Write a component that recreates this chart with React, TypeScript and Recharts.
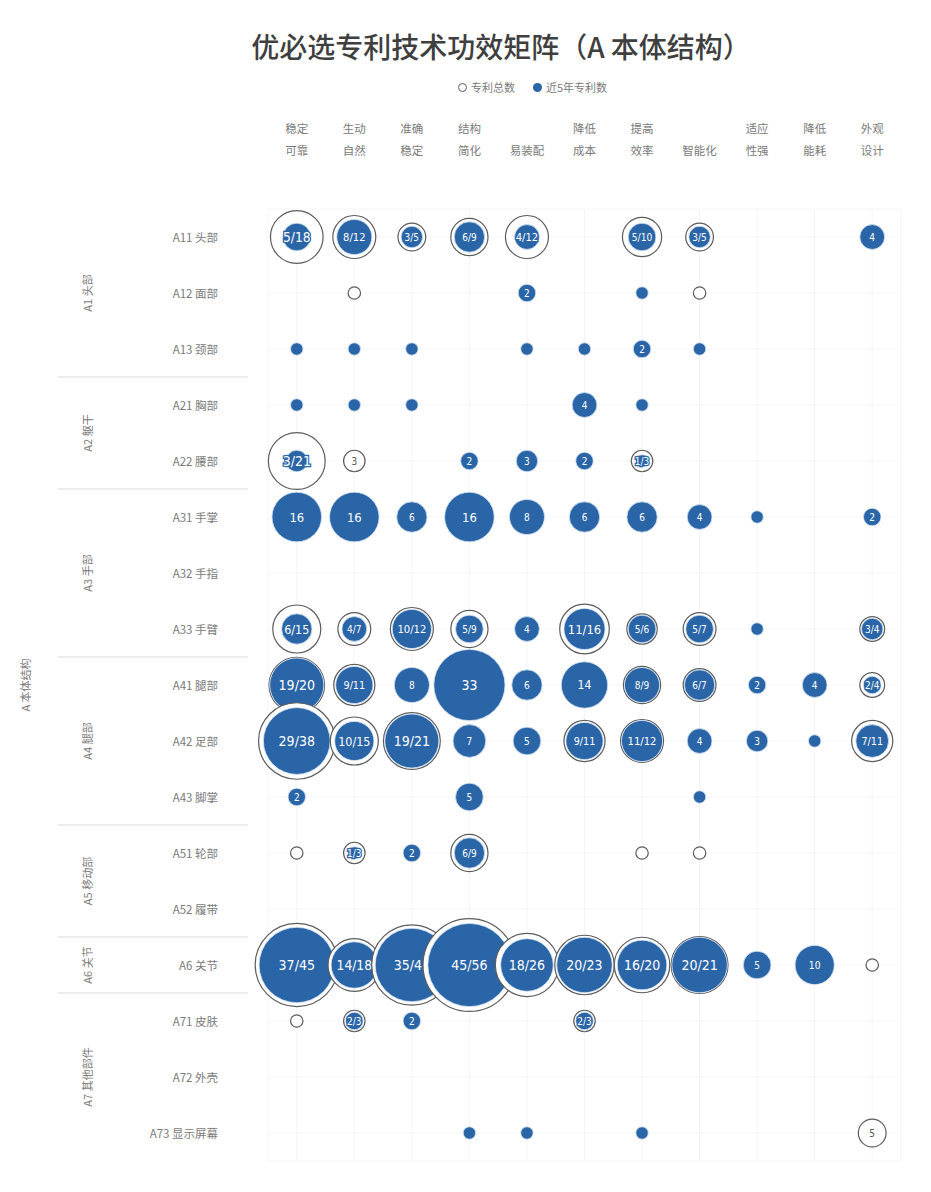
import {
  CartesianGrid,
  ReferenceDot,
  ReferenceLine,
  Scatter,
  ScatterChart,
  XAxis,
  YAxis,
  ZAxis,
} from "recharts";

// 功效 columns (two-line headers)
const columns: string[][] = [
  ["稳定", "可靠"],
  ["生动", "自然"],
  ["准确", "稳定"],
  ["结构", "简化"],
  ["", "易装配"],
  ["降低", "成本"],
  ["提高", "效率"],
  ["", "智能化"],
  ["适应", "性强"],
  ["降低", "能耗"],
  ["外观", "设计"],
];

const rows = [
  "A11 头部",
  "A12 面部",
  "A13 颈部",
  "A21 胸部",
  "A22 腰部",
  "A31 手掌",
  "A32 手指",
  "A33 手臂",
  "A41 腿部",
  "A42 足部",
  "A43 脚掌",
  "A51 轮部",
  "A52 履带",
  "A6 关节",
  "A71 皮肤",
  "A72 外壳",
  "A73 显示屏幕",
];

const groups = [
  { name: "A1 头部", from: 0, to: 2 },
  { name: "A2 躯干", from: 3, to: 4 },
  { name: "A3 手部", from: 5, to: 7 },
  { name: "A4 腿部", from: 8, to: 10 },
  { name: "A5 移动部", from: 11, to: 12 },
  { name: "A6 关节", from: 13, to: 13 },
  { name: "A7 其他部件", from: 14, to: 16 },
];

// 专利总数
const total: number[][] = [
  [18, 12, 5, 9, 12, 0, 10, 5, 0, 0, 4],
  [0, 1, 0, 0, 2, 0, 1, 1, 0, 0, 0],
  [1, 1, 1, 0, 1, 1, 2, 1, 0, 0, 0],
  [1, 1, 1, 0, 0, 4, 1, 0, 0, 0, 0],
  [21, 3, 0, 2, 3, 2, 3, 0, 0, 0, 0],
  [16, 16, 6, 16, 8, 6, 6, 4, 1, 0, 2],
  [0, 0, 0, 0, 0, 0, 0, 0, 0, 0, 0],
  [15, 7, 12, 9, 4, 16, 6, 7, 1, 0, 4],
  [20, 11, 8, 33, 6, 14, 9, 7, 2, 4, 4],
  [38, 15, 21, 7, 5, 11, 12, 4, 3, 1, 11],
  [2, 0, 0, 5, 0, 0, 0, 1, 0, 0, 0],
  [1, 3, 2, 9, 0, 0, 1, 1, 0, 0, 0],
  [0, 0, 0, 0, 0, 0, 0, 0, 0, 0, 0],
  [45, 18, 42, 56, 26, 23, 20, 21, 5, 10, 1],
  [1, 3, 2, 0, 0, 3, 0, 0, 0, 0, 0],
  [0, 0, 0, 0, 0, 0, 0, 0, 0, 0, 0],
  [0, 0, 0, 1, 1, 0, 1, 0, 0, 0, 5],
];

// 近5年专利数
const recent: number[][] = [
  [5, 8, 3, 6, 4, 0, 5, 3, 0, 0, 4],
  [0, 0, 0, 0, 2, 0, 1, 0, 0, 0, 0],
  [1, 1, 1, 0, 1, 1, 2, 1, 0, 0, 0],
  [1, 1, 1, 0, 0, 4, 1, 0, 0, 0, 0],
  [3, 0, 0, 2, 3, 2, 1, 0, 0, 0, 0],
  [16, 16, 6, 16, 8, 6, 6, 4, 1, 0, 2],
  [0, 0, 0, 0, 0, 0, 0, 0, 0, 0, 0],
  [6, 4, 10, 5, 4, 11, 5, 5, 1, 0, 3],
  [19, 9, 8, 33, 6, 14, 8, 6, 2, 4, 2],
  [29, 10, 19, 7, 5, 9, 11, 4, 3, 1, 7],
  [2, 0, 0, 5, 0, 0, 0, 1, 0, 0, 0],
  [0, 1, 2, 6, 0, 0, 0, 0, 0, 0, 0],
  [0, 0, 0, 0, 0, 0, 0, 0, 0, 0, 0],
  [37, 14, 35, 45, 18, 20, 16, 20, 5, 10, 0],
  [0, 2, 2, 0, 0, 2, 0, 0, 0, 0, 0],
  [0, 0, 0, 0, 0, 0, 0, 0, 0, 0, 0],
  [0, 0, 0, 1, 1, 0, 1, 0, 0, 0, 0],
];

const BLUE = "#2a65a7";
const RING = "#5c5c5c";
const TEXT = "#7a7a7a";
const CJK = '"Noto Sans CJK SC", "Noto Sans", sans-serif';
const NUM = '"Liberation Sans Narrow", "DejaVu Sans Condensed", "DejaVu Sans", sans-serif';

type Cell = { x: number; y: number; total: number; recent: number };

const cells: Cell[] = [];
rows.forEach((_, r) =>
  columns.forEach((_, c) => {
    if (total[r][c] > 0) cells.push({ x: c, y: r, total: total[r][c], recent: recent[r][c] });
  })
);

const maxTotal = Math.max(...total.flat());
const dividers = groups.slice(0, -1).map((g) => g.to + 0.5);

function Bubble(props: any) {
  const { cx, cy, size, payload } = props;
  const R = Math.sqrt(size / Math.PI);
  const { total: t, recent: n } = payload as Cell;
  const r = R * Math.sqrt(n / t);
  let label = "";
  if (n === t || n === 0) label = t > 1 ? `${t}` : "";
  else label = `${n}/${t}`;
  const fs = Math.max(10, Math.min(14, R * 0.52));
  return (
    <g>
      {n < t && <circle cx={cx} cy={cy} r={R} fill="#fff" stroke={RING} strokeWidth={1.2} />}
      {n > 0 && <circle cx={cx} cy={cy} r={r} fill={BLUE} stroke="#d6e3f2" strokeWidth={0.8} />}
      {label && (
        <text
          x={cx}
          y={cy}
          textAnchor="middle"
          dominantBaseline="central"
          fontSize={fs}
          fontFamily={NUM}
          fill={n > 0 ? "#fff" : "#555"}
          stroke={n > 0 ? BLUE : "#fff"}
          strokeWidth={n > 0 ? 2.5 : 0}
          paintOrder="stroke"
        >
          {label}
        </text>
      )}
    </g>
  );
}

function ColumnTick({ x, y, payload }: any) {
  const [a, b] = columns[payload.value];
  return (
    <g fontFamily={CJK} fontSize={11.5} fill={TEXT}>
      {a && (
        <text x={x} y={y - 22} textAnchor="middle">
          {a}
        </text>
      )}
      <text x={x} y={y} textAnchor="middle">
        {b}
      </text>
    </g>
  );
}

function RowTick({ x, y, payload }: any) {
  return (
    <text x={x} y={y} textAnchor="end" dominantBaseline="central" fontFamily={CJK} fontSize={11.5} fill={TEXT}>
      {rows[payload.value]}
    </text>
  );
}

const vText = (label: string, size: number) => (p: any) => (
  <text
    transform={`translate(${p.cx},${p.cy}) rotate(-90)`}
    textAnchor="middle"
    dominantBaseline="central"
    fontFamily={CJK}
    fontSize={size}
    fill={TEXT}
  >
    {label}
  </text>
);

export default function App() {
  return (
    <div
      style={{
        position: "absolute",
        left: 0,
        top: 0,
        width: 931,
        height: 1192,
        background: "#fff",
        overflow: "hidden",
        fontFamily: CJK,
      }}
    >
      <div
        style={{
          position: "absolute",
          left: 501,
          top: 26,
          transform: "translateX(-50%)",
          whiteSpace: "nowrap",
          fontSize: 28,
          fontWeight: 500,
          color: "#3f3f3f",
        }}
      >
        优必选专利技术功效矩阵（A 本体结构）
      </div>
      <div
        style={{
          position: "absolute",
          left: 458,
          top: 79,
          display: "flex",
          alignItems: "center",
          gap: 4,
          fontSize: 11,
          color: TEXT,
          whiteSpace: "nowrap",
        }}
      >
        <span style={{ width: 7, height: 7, borderRadius: 5, border: `1.3px solid ${RING}`, display: "inline-block" }} />
        <span>专利总数</span>
        <span style={{ width: 9, height: 9, borderRadius: 5, background: BLUE, display: "inline-block", marginLeft: 14 }} />
        <span>近5年专利数</span>
      </div>
      <div style={{ position: "absolute", left: 0, top: 0 }}>
        <ScatterChart width={931} height={1192} margin={{ top: 100, right: 30, bottom: 31, left: 0 }}>
          <CartesianGrid stroke="#f4f5f8" />
          <XAxis
            type="number"
            dataKey="x"
            orientation="top"
            domain={[-0.5, 10.5]}
            ticks={columns.map((_, i) => i)}
            interval={0}
            height={109}
            axisLine={false}
            tickLine={false}
            tickSize={0}
            tickMargin={54}
            tick={<ColumnTick />}
          />
          <YAxis
            type="number"
            dataKey="y"
            reversed
            domain={[-0.5, rows.length - 0.5]}
            ticks={rows.map((_, i) => i)}
            interval={0}
            width={268}
            axisLine={false}
            tickLine={false}
            tickSize={0}
            tickMargin={50}
            tick={<RowTick />}
          />
          <ZAxis type="number" dataKey="total" domain={[0, maxTotal]} range={[0, maxTotal * 120.8]} />
          {dividers.map((d) => (
            <ReferenceLine
              key={d}
              segment={[
                { x: -4.15, y: d },
                { x: -0.85, y: d },
              ]}
              stroke="#d9d9d9"
              ifOverflow="visible"
            />
          ))}
          {groups.map((g) => (
            <ReferenceDot
              key={g.name}
              x={-3.65}
              y={(g.from + g.to) / 2}
              r={0}
              ifOverflow="visible"
              shape={vText(g.name, 11)}
            />
          ))}
          <ReferenceDot
            x={-4.73}
            y={(rows.length - 1) / 2}
            r={0}
            ifOverflow="visible"
            shape={vText("A 本体结构", 11)}
          />
          <Scatter data={cells} shape={<Bubble />} isAnimationActive={false} />
        </ScatterChart>
      </div>
    </div>
  );
}
